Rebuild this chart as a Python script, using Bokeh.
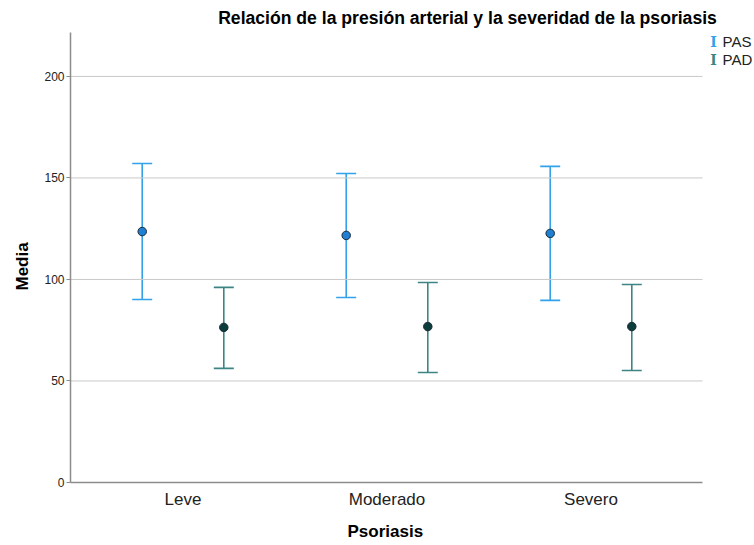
from bokeh.plotting import figure
from bokeh.models import (ColumnDataSource, Range1d, Whisker, TeeHead,
                          FixedTicker, Label, Title)
from bokeh.transform import dodge
from bokeh.embed import file_html
from bokeh.resources import INLINE

categories = ["Leve", "Moderado", "Severo"]
pas_mean = [123.6, 121.7, 122.7]
pas_upper = [157.1, 152.2, 155.7]
pas_lower = [90.1, 91.1, 89.7]
pad_mean = [76.4, 76.8, 76.8]
pad_upper = [96.1, 98.5, 97.5]
pad_lower = [56.2, 54.2, 55.2]
y_ticks = [0, 50, 100, 150, 200]
series_names = ["PAS", "PAD"]
title_text = "Relación de la presión arterial y la severidad de la psoriasis"
x_title = "Psoriasis"
y_title = "Media"

PAS_LINE = "#33a2ea"
PAS_FILL = "#1f7fd2"
PAD_LINE = "#3d8585"
PAD_FILL = "#0c3d3d"
FONT = "Liberation Sans"

pos = list(range(len(categories)))
src_pas = ColumnDataSource(dict(x=pos, m=pas_mean, u=pas_upper, l=pas_lower))
src_pad = ColumnDataSource(dict(x=pos, m=pad_mean, u=pad_upper, l=pad_lower))

# visible plotting area (axes extent)
X0, X1 = -0.5515, 2.5466
Y0, Y1 = 0, 221.7

p = figure(x_range=Range1d(X0, 2.8015), y_range=Range1d(0, 237.4),
           frame_width=684, frame_height=482,
           min_border_left=70, min_border_right=0,
           min_border_top=0, min_border_bottom=63,
           output_backend="svg", toolbar_location=None)
p.outline_line_color = None
p.background_fill_color = "white"
p.border_fill_color = "white"
p.xgrid.grid_line_color = None
p.ygrid.grid_line_color = None

# horizontal grid lines limited to the axes area
grid_src = ColumnDataSource(dict(y=y_ticks[1:], x0=[X0] * 4, x1=[X1] * 4))
p.segment(x0="x0", x1="x1", y0="y", y1="y", source=grid_src,
          line_color="#c9c9c9", line_width=1)

off = 0.2
for src, dx, lc, fc in [(src_pas, -off, PAS_LINE, PAS_FILL), (src_pad, off, PAD_LINE, PAD_FILL)]:
    w = Whisker(source=src, base=dodge("x", dx), upper="u", lower="l",
                line_color=lc, line_width=1.6,
                upper_head=TeeHead(size=20, line_color=lc, line_width=1.6),
                lower_head=TeeHead(size=20, line_color=lc, line_width=1.6))
    p.add_layout(w)
    p.scatter(x=dodge("x", dx), y="m", source=src, size=8.5,
              fill_color=fc, line_color="#1a2a33", line_width=1)

# axes
for ax in (p.xaxis[0], p.yaxis[0]):
    ax.axis_line_color = "#8c8c8c"
    ax.axis_line_width = 1.5
    ax.major_label_text_font = FONT
    ax.major_label_text_color = "#222222"
    ax.minor_tick_line_color = None

p.yaxis.ticker = FixedTicker(ticks=y_ticks)
p.yaxis.bounds = (Y0, Y1)
p.yaxis.major_tick_in = 0
p.yaxis.major_tick_out = 4
p.yaxis.major_tick_line_color = "#8c8c8c"
p.yaxis.major_label_text_font_size = "12px"
p.yaxis.major_label_standoff = 2

p.xaxis.ticker = FixedTicker(ticks=pos)
p.xaxis.major_label_overrides = {i: c for i, c in zip(pos, categories)}
p.xaxis.bounds = (X0, X1)
p.xaxis.major_tick_line_color = None
p.xaxis.major_tick_in = 0
p.xaxis.major_tick_out = 0
p.xaxis.major_label_text_font_size = "17px"
p.xaxis.major_label_standoff = 7

# axis titles, centred on the axes area (not the extended frame)
p.add_layout(Title(text=x_title, align="left", offset=277, standoff=16,
                   text_font=FONT, text_font_style="bold", text_font_size="17px",
                   text_color="black"), "below")
p.add_layout(Title(text=y_title, align="left", offset=192, standoff=20,
                   text_font=FONT, text_font_style="bold", text_font_size="17px",
                   text_color="black"), "left")

# title
p.add_layout(Label(x=1.3946, y=228.6, text=title_text,
                   text_align="center", text_baseline="middle", text_font=FONT,
                   text_font_style="bold", text_font_size="17.6px", text_color="black"))

# legend (error-bar symbol + label)
for i, (name, col) in enumerate(zip(series_names, [PAS_LINE, PAD_LINE])):
    yy = 217.2 - i * 8.87
    p.add_layout(Label(x=2.6005, y=yy, text="I", text_align="center", text_baseline="middle",
                       text_font="DejaVu Serif", text_font_style="bold",
                       text_font_size="14px", text_color=col))
    p.add_layout(Label(x=2.6446, y=yy, text=name, text_align="left", text_baseline="middle",
                       text_font=FONT, text_font_size="15px", text_color="#222222"))

open("out.html", "w").write(file_html(p, INLINE))
